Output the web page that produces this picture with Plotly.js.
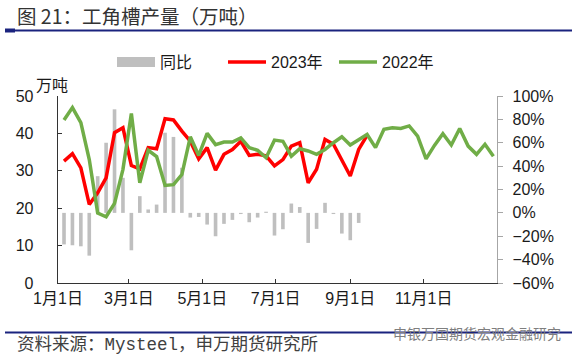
<!DOCTYPE html>
<html>
<head>
<meta charset="utf-8">
<script src="https://cdn.plot.ly/plotly-3.0.1.min.js"></script>
<style>html,body{margin:0;padding:0;background:#fff;}#chart{width:577px;height:354px;}</style>
</head>
<body>
<div id="chart"></div>
<script>
const weekDates = ["2023-01-06","2023-01-13","2023-01-20","2023-01-27","2023-02-03","2023-02-10","2023-02-17","2023-02-24",
"2023-03-03","2023-03-10","2023-03-17","2023-03-24","2023-03-31","2023-04-07","2023-04-14","2023-04-21","2023-04-28",
"2023-05-05","2023-05-12","2023-05-19","2023-05-26","2023-06-02","2023-06-09","2023-06-16","2023-06-23","2023-06-30",
"2023-07-07","2023-07-14","2023-07-21","2023-07-28","2023-08-04","2023-08-11","2023-08-18","2023-08-25",
"2023-09-01","2023-09-08","2023-09-15","2023-09-22","2023-09-29","2023-10-06","2023-10-13","2023-10-20","2023-10-27",
"2023-11-03","2023-11-10","2023-11-17","2023-11-24","2023-12-01","2023-12-08","2023-12-15","2023-12-22","2023-12-29"];

const output2023 = [32.6,34.6,30.8,21.0,24.1,28.1,40.2,41.5,31.4,30.5,36.2,35.9,43.9,43.6,40.6,37.9,33.2,36.2,30.2,34.4,
35.7,37.9,34.1,34.4,34.0,31.3,33.0,36.6,37.5,26.8,30.4,38.4,37.1,33.0,28.6,35.7,39.5];

const output2022 = [43.6,46.9,42.9,33.0,18.7,17.7,21.3,30.4,45.3,26.8,35.5,33.8,26.1,26.3,29.0,39.1,34.1,40.0,37.0,37.7,
37.7,38.8,36.2,35.5,33.5,38.2,37.9,33.9,35.9,35.3,34.4,35.7,37.5,39.1,36.9,38.4,39.7,36.2,41.1,41.5,41.3,42.0,39.3,
33.2,36.8,39.9,36.9,41.3,36.6,34.4,37.1,33.9];

const yoyPct = [-27,-27.7,-28.6,-36.6,31.4,60,88.6,30,-32,14.3,2.9,7.1,68.6,65,38.6,-4,-3.5,-10,-20,-9.4,-6,-1,-8,-4,1,
-19.4,-14,8,5,-25.7,-13.7,8.6,-1,-17.7,-23.4,-8.6];

const tickDates = ["2023-01-01","2023-03-01","2023-05-01","2023-07-01","2023-09-01","2023-11-01","2024-01-01"];
const tickLabels = ["1月1日","3月1日","5月1日","7月1日","9月1日","11月1日",""];
const seriesNames = ["同比","2023年","2022年"];

const F = "Liberation Sans, Noto Sans CJK SC, sans-serif";
const FC = "Noto Sans CJK SC, sans-serif";

const traces = [
  {type:'bar', x: weekDates.slice(0, yoyPct.length), y: yoyPct, yaxis:'y', xaxis:'x',
   marker:{color:'#bfbfbf'}, width: 2.6e8, showlegend:false, name: seriesNames[0], hoverinfo:'skip'},
  {type:'scatter', mode:'lines', x: [null], y: [null], yaxis:'y', name: seriesNames[0],
   line:{color:'#bfbfbf', width:13}, showlegend:true},
  {type:'scatter', mode:'lines', x: weekDates.slice(0, output2023.length), y: output2023, yaxis:'y2',
   name: seriesNames[1], line:{color:'#ff0000', width:3.5}},
  {type:'scatter', mode:'lines', x: weekDates, y: output2022, yaxis:'y2',
   name: seriesNames[2], line:{color:'#70ad47', width:3.5}}
];

const px = (v)=> (v-58)/439;
const py = (v)=> (283-v)/187;

const layout = {
  width:577, height:354,
  margin:{l:58, r:80, t:96, b:71, pad:0},
  paper_bgcolor:'#fff', plot_bgcolor:'#fff',
  title:{text:'图 21：工角槽产量（万吨）', font:{family:FC, size:19.5, color:'#333'},
         x:17/577, xref:'container', xanchor:'left', y:1-17/354, yref:'container', yanchor:'middle'},
  font:{family:F, size:16, color:'#1a1a1a'},
  showlegend:true,
  legend:{orientation:'h', x:px(112), xanchor:'left', y:py(62), yanchor:'middle',
          font:{family:F, size:16, color:'#1a1a1a'}, itemwidth:38, entrywidth:58, entrywidthmode:'pixels',
          bgcolor:'rgba(0,0,0,0)', traceorder:'normal'},
  xaxis:{type:'date', range:['2023-01-01','2024-01-01'], tickmode:'array', tickvals:tickDates, ticktext:tickLabels,
         showline:true, linecolor:'#333', linewidth:1.3, ticks:'inside', ticklen:4, tickcolor:'#333',
         showgrid:false, zeroline:false, tickfont:{family:F, size:16, color:'#1a1a1a'}, fixedrange:true},
  yaxis:{side:'right', range:[-60,100], tickmode:'linear', tick0:-60, dtick:20, ticksuffix:'%',
         showline:true, linecolor:'#a6a6a6', linewidth:1.3, ticks:'outside', ticklen:5, tickcolor:'#a6a6a6',
         showgrid:false, zeroline:false, ticklabelstandoff:6, tickfont:{family:F, size:16, color:'#1a1a1a'}},
  yaxis2:{side:'left', overlaying:'y', range:[0,50], tickmode:'linear', tick0:0, dtick:10,
          showline:true, linecolor:'#333', linewidth:1.3, ticks:'inside', ticklen:4, tickcolor:'#333',
          showgrid:false, zeroline:false, ticklabelstandoff:20, tickfont:{family:F, size:16, color:'#1a1a1a'}},
  annotations:[
    {text:'万吨', xref:'paper', yref:'paper', x:px(52), y:py(84), xanchor:'center', yanchor:'middle',
     showarrow:false, font:{family:FC, size:16, color:'#1a1a1a'}},
    {text:'资料来源：<span style="font-family:Liberation Mono">Mysteel</span>，申万期货研究所', xref:'paper', yref:'paper',
     x:px(15), y:py(342), xanchor:'left', yanchor:'middle',
     showarrow:false, font:{family:FC, size:17.5, color:'#404040'}},
    {text:'申银万国期货宏观金融研究', xref:'paper', yref:'paper', x:px(391), y:py(333), xanchor:'left', yanchor:'middle',
     showarrow:false, font:{family:FC, size:14, color:'#7f7f7f'}}
  ],
  shapes:[
    {type:'line', xref:'paper', yref:'paper', x0:px(5), x1:px(572), y0:py(30.5), y1:py(30.5), line:{color:'#1a237e', width:2}},
    {type:'line', xref:'paper', yref:'paper', x0:px(5), x1:px(15), y0:py(30.5), y1:py(30.5), line:{color:'#1a237e', width:4}},
    {type:'line', xref:'paper', yref:'paper', x0:px(5), x1:px(572), y0:py(332.5), y1:py(332.5), line:{color:'#1a237e', width:2}}
  ]
};

Plotly.newPlot('chart', traces, layout, {displayModeBar:false, staticPlot:true});
</script>
</body>
</html>
